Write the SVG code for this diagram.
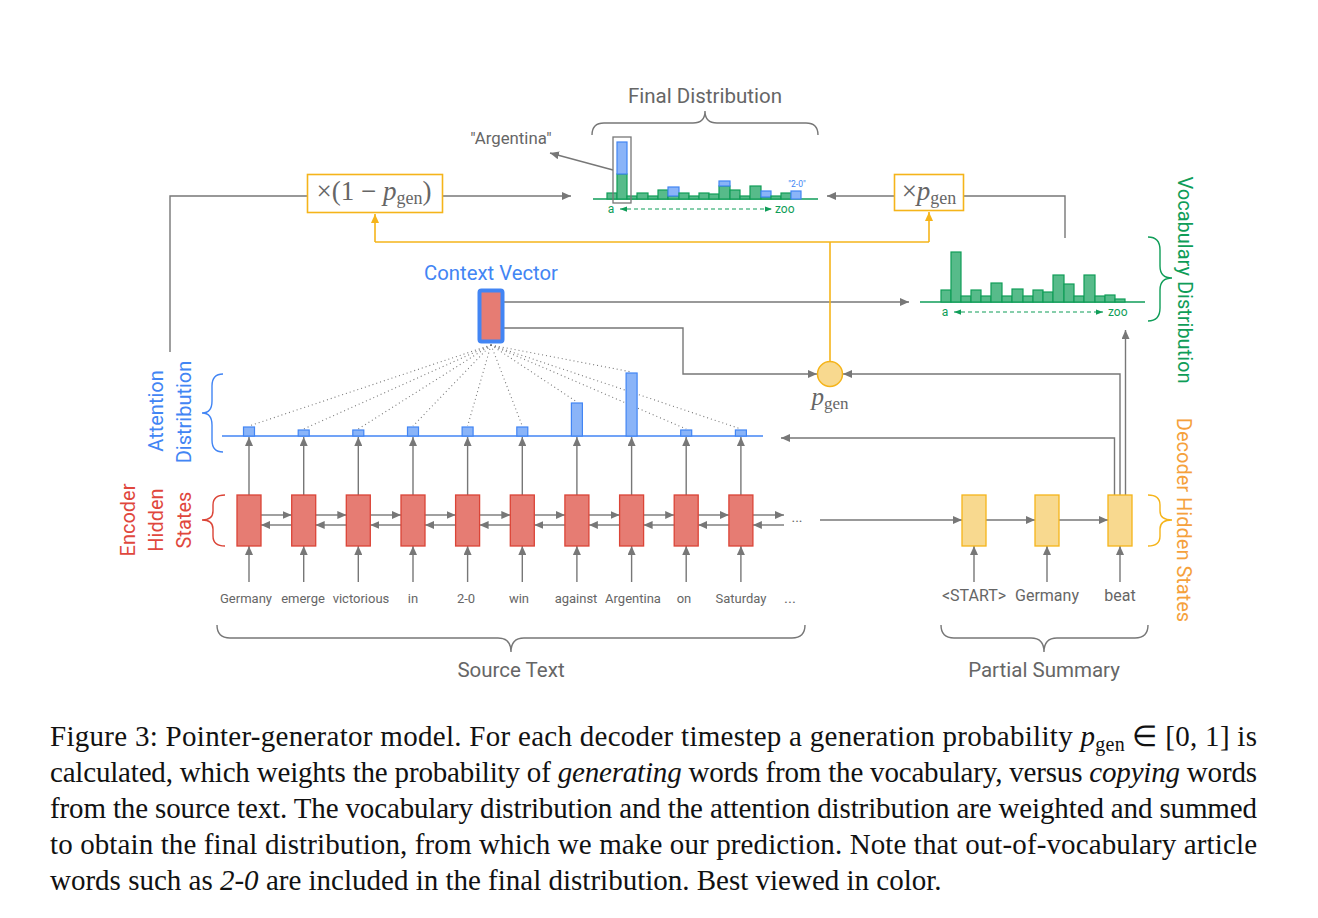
<svg xmlns="http://www.w3.org/2000/svg" width="1318" height="918" viewBox="0 0 1318 918">
<defs>
<marker id="ag" viewBox="0 0 9 8" refX="9" refY="4" markerWidth="9" markerHeight="8" markerUnits="userSpaceOnUse" orient="auto"><path d="M0,0 L9,4 L0,8 z" fill="#777"/></marker>
<marker id="ay" viewBox="0 0 9 8" refX="9" refY="4" markerWidth="9" markerHeight="8" markerUnits="userSpaceOnUse" orient="auto"><path d="M0,0 L9,4 L0,8 z" fill="#f5b41a"/></marker>
<marker id="agr" viewBox="0 0 8 6" refX="8" refY="3" markerWidth="7" markerHeight="6" markerUnits="userSpaceOnUse" orient="auto-start-reverse"><path d="M0,0 L8,3 L0,6 z" fill="#0f9d58"/></marker>
<style>
.ln{fill:none;stroke:#777;stroke-width:1.4}
.ar{fill:none;stroke:#777;stroke-width:1.4;marker-end:url(#ag)}
.yl{fill:none;stroke:#f5b41a;stroke-width:1.6}
.ya{fill:none;stroke:#f5b41a;stroke-width:1.6;marker-end:url(#ay)}
.dot{fill:none;stroke:#777;stroke-width:1.1;stroke-dasharray:1 3}
.enc{fill:#e67c73;stroke:#db4437;stroke-width:1.3}
.dec{fill:#f8d98f;stroke:#f5b41a;stroke-width:1.3}
.att{fill:#8ab4f8;stroke:#4285f4;stroke-width:1.2}
.gb{fill:#57bb8a;stroke:#0f9d58;stroke-width:1.2}
.bb{fill:#8ab4f8;stroke:#4285f4;stroke-width:1.2}
.w{font-family:Roboto,'Liberation Sans',sans-serif;font-size:13px;fill:#666;text-anchor:middle}
.wd{font-family:Roboto,'Liberation Sans',sans-serif;font-size:16px;fill:#666;text-anchor:middle}
.lab{font-family:Roboto,'Liberation Sans',sans-serif;font-size:20.5px;fill:#666;text-anchor:middle}
.rot{font-family:Roboto,'Liberation Sans',sans-serif;font-size:20px;text-anchor:middle}
.math{font-family:'Liberation Serif',serif;fill:#666;text-anchor:middle}
.cap{font-family:'Liberation Serif','Times New Roman',serif;font-size:29px;fill:#111}
.sm{font-family:Roboto,'Liberation Sans',sans-serif;font-size:12px;fill:#0f9d58}
.brace{fill:none;stroke-width:1.4}
</style>
</defs>

<g id="connectors">
  <path class="ar" d="M261,515 H291.7"/><path class="ar" d="M291.7,525 H261"/>
  <path class="ar" d="M315.7,515 H346.3"/><path class="ar" d="M346.3,525 H315.7"/>
  <path class="ar" d="M370.3,515 H401"/><path class="ar" d="M401,525 H370.3"/>
  <path class="ar" d="M425,515 H455.6"/><path class="ar" d="M455.6,525 H425"/>
  <path class="ar" d="M479.6,515 H510.3"/><path class="ar" d="M510.3,525 H479.6"/>
  <path class="ar" d="M534.3,515 H564.9"/><path class="ar" d="M564.9,525 H534.3"/>
  <path class="ar" d="M588.9,515 H619.6"/><path class="ar" d="M619.6,525 H588.9"/>
  <path class="ar" d="M643.6,515 H674.2"/><path class="ar" d="M674.2,525 H643.6"/>
  <path class="ar" d="M698.2,515 H728.9"/><path class="ar" d="M728.9,525 H698.2"/>
  <path class="ar" d="M752.9,515 H784"/><path class="ar" d="M784,525 H752.9"/>
  <path class="ar" d="M249,582 V546"/><path class="ar" d="M303.7,582 V546"/><path class="ar" d="M358.3,582 V546"/>
  <path class="ar" d="M413,582 V546"/><path class="ar" d="M467.6,582 V546"/><path class="ar" d="M522.3,582 V546"/>
  <path class="ar" d="M576.9,582 V546"/><path class="ar" d="M631.6,582 V546"/><path class="ar" d="M686.2,582 V546"/>
  <path class="ar" d="M740.9,582 V546"/>
  <path class="ar" d="M249,495 V437"/><path class="ar" d="M303.7,495 V437"/><path class="ar" d="M358.3,495 V437"/>
  <path class="ar" d="M413,495 V437"/><path class="ar" d="M467.6,495 V437"/><path class="ar" d="M522.3,495 V437"/>
  <path class="ar" d="M576.9,495 V437"/><path class="ar" d="M631.6,495 V437"/><path class="ar" d="M686.2,495 V437"/>
  <path class="ar" d="M740.9,495 V437"/>
  <path class="dot" d="M491,345 L249,426"/><path class="dot" d="M491,345 L303.7,429"/><path class="dot" d="M491,345 L358.3,429"/>
  <path class="dot" d="M491,345 L413,426"/><path class="dot" d="M491,345 L467.6,426"/><path class="dot" d="M491,345 L522.3,426"/>
  <path class="dot" d="M491,345 L576.9,402"/><path class="dot" d="M491,345 L631.6,372"/><path class="dot" d="M491,345 L686.2,429"/>
  <path class="dot" d="M491,345 L740.9,429"/>
  <path class="ar" d="M820,520 H962"/>
  <path class="ar" d="M986,520 H1035"/>
  <path class="ar" d="M1059,520 H1108"/>
  <path class="ar" d="M974,582 V546"/><path class="ar" d="M1047,582 V546"/><path class="ar" d="M1120,582 V546"/>
  <path class="ar" d="M1114.5,495 V438 H781"/>
  <path class="ar" d="M1120,495 V374 H843"/>
  <path class="ar" d="M1125.5,495 V330"/>
  <path class="ar" d="M504,302 H909"/>
  <path class="ar" d="M504,328 H683 V374 H817"/>
  <path class="ln" d="M170,352 V196 H307"/>
  <path class="ar" d="M443,196 H571"/>
  <path class="ar" d="M894,196 H827"/>
  <path class="ln" d="M964,196 H1065 V238"/>
  <path class="ar" d="M613,170 L550,153"/>
  <path class="yl" d="M830,361.5 V242"/>
  <path class="yl" d="M375,242 H929"/>
  <path class="ya" d="M375,242 V214"/>
  <path class="ya" d="M929,242 V212"/>
</g>

<g id="encoder">
  <rect class="enc" x="237" y="495" width="24" height="51"/>
  <rect class="enc" x="291.7" y="495" width="24" height="51"/>
  <rect class="enc" x="346.3" y="495" width="24" height="51"/>
  <rect class="enc" x="401" y="495" width="24" height="51"/>
  <rect class="enc" x="455.6" y="495" width="24" height="51"/>
  <rect class="enc" x="510.3" y="495" width="24" height="51"/>
  <rect class="enc" x="564.9" y="495" width="24" height="51"/>
  <rect class="enc" x="619.6" y="495" width="24" height="51"/>
  <rect class="enc" x="674.2" y="495" width="24" height="51"/>
  <rect class="enc" x="728.9" y="495" width="24" height="51"/>
  <text x="797" y="522" font-family="Roboto,'Liberation Sans',sans-serif" font-size="14" fill="#666" text-anchor="middle">...</text>
</g>

<g id="source-words">
  <text class="w" x="246" y="603">Germany</text>
  <text class="w" x="303" y="603">emerge</text>
  <text class="w" x="361" y="603">victorious</text>
  <text class="w" x="413" y="603">in</text>
  <text class="w" x="466" y="603">2-0</text>
  <text class="w" x="519" y="603">win</text>
  <text class="w" x="576" y="603">against</text>
  <text class="w" x="633" y="603">Argentina</text>
  <text class="w" x="684" y="603">on</text>
  <text class="w" x="741" y="603">Saturday</text>
  <text x="790" y="603" font-family="Roboto,'Liberation Sans',sans-serif" font-size="15" fill="#666" text-anchor="middle">...</text>
</g>

<g id="attention">
  <line x1="222" y1="436" x2="763" y2="436" stroke="#4285f4" stroke-width="1.5"/>
  <rect class="att" x="243.5" y="427" width="11" height="9"/>
  <rect class="att" x="298.2" y="430" width="11" height="6"/>
  <rect class="att" x="352.8" y="430" width="11" height="6"/>
  <rect class="att" x="407.5" y="427" width="11" height="9"/>
  <rect class="att" x="462.1" y="427" width="11" height="9"/>
  <rect class="att" x="516.8" y="427" width="11" height="9"/>
  <rect class="att" x="571.4" y="403" width="11" height="33"/>
  <rect class="att" x="626.1" y="373" width="11" height="63"/>
  <rect class="att" x="680.7" y="430" width="11" height="6"/>
  <rect class="att" x="735.4" y="430" width="11" height="6"/>
</g>

<g id="context-vector">
  <rect x="479.5" y="290.5" width="23" height="51" rx="2" fill="#e67c73" stroke="#4285f4" stroke-width="4"/>
  <text x="491" y="280" font-family="Roboto,'Liberation Sans',sans-serif" font-size="20.3" fill="#4285f4" text-anchor="middle">Context Vector</text>
</g>

<g id="pgen">
  <circle cx="830" cy="374" r="12.5" fill="#f8d98f" stroke="#f5b41a" stroke-width="1.5"/>
  <text class="math" x="830" y="405" font-size="25"><tspan font-style="italic">p</tspan><tspan font-size="17" dy="4">gen</tspan></text>
</g>

<g id="one-minus-pgen">
  <rect x="307.5" y="174.5" width="135" height="38" fill="#fff" stroke="#f5b41a" stroke-width="1.6"/>
  <text class="math" x="374" y="200" font-size="27">×(1 − <tspan font-style="italic">p</tspan><tspan font-size="18" dy="4">gen</tspan><tspan dy="-4">)</tspan></text>
</g>

<g id="times-pgen">
  <rect x="894.5" y="174.5" width="69" height="36" fill="#fff" stroke="#f5b41a" stroke-width="1.6"/>
  <text class="math" x="929" y="200" font-size="27">×<tspan font-style="italic">p</tspan><tspan font-size="18" dy="4">gen</tspan></text>
</g>

<g id="final-distribution">
  <line x1="593" y1="199" x2="818" y2="199" stroke="#0f9d58" stroke-width="1.5"/>
  <rect class="gb" x="607" y="193" width="10" height="6"/>
  <rect class="gb" x="617" y="174" width="10" height="25"/>
  <rect class="bb" x="617" y="142" width="10" height="32"/>
  <rect class="gb" x="627" y="196" width="10" height="3"/>
  <rect class="gb" x="637" y="193" width="11" height="6"/>
  <rect class="gb" x="648" y="196" width="10" height="3"/>
  <rect class="gb" x="658" y="190" width="10" height="9"/>
  <rect class="gb" x="668" y="196" width="11" height="3"/>
  <rect class="bb" x="668" y="187" width="11" height="9"/>
  <rect class="gb" x="679" y="193" width="10" height="6"/>
  <rect class="gb" x="689" y="196" width="10" height="3"/>
  <rect class="gb" x="699" y="193" width="10" height="6"/>
  <rect class="gb" x="709" y="194" width="10" height="5"/>
  <rect class="gb" x="719" y="186" width="11" height="13"/>
  <rect class="bb" x="719" y="181" width="11" height="5"/>
  <rect class="gb" x="730" y="190" width="10" height="9"/>
  <rect class="gb" x="740" y="196" width="10" height="3"/>
  <rect class="gb" x="750" y="186" width="11" height="13"/>
  <rect class="gb" x="761" y="197" width="10" height="2"/>
  <rect class="bb" x="761" y="191" width="10" height="6"/>
  <rect class="gb" x="771" y="196" width="10" height="3"/>
  <rect class="gb" x="781" y="193" width="10" height="6"/>
  <rect class="bb" x="791" y="191" width="10" height="8"/>
  <rect x="613" y="137" width="18" height="66" fill="none" stroke="#777" stroke-width="1.3"/>
  <text x="797" y="187" font-family="Roboto,'Liberation Sans',sans-serif" font-size="8.5" fill="#4285f4" text-anchor="middle">"2-0"</text>
  <text class="sm" x="611" y="213" text-anchor="middle">a</text>
  <line x1="620" y1="209" x2="772" y2="209" stroke="#0f9d58" stroke-width="1.2" stroke-dasharray="4 3" marker-start="url(#agr)" marker-end="url(#agr)"/>
  <text class="sm" x="775" y="213">zoo</text>
  <text x="511" y="144" font-family="Roboto,'Liberation Sans',sans-serif" font-size="16.8" fill="#666" text-anchor="middle">"Argentina"</text>
  <path class="brace" stroke="#777" d="M592,135 Q592,123 604,123 L693,123 Q705,123 705,111 Q705,123 717,123 L806,123 Q818,123 818,135"/>
  <text class="lab" x="705" y="103">Final Distribution</text>
</g>

<g id="vocab-distribution">
  <line x1="920" y1="302" x2="1145" y2="302" stroke="#0f9d58" stroke-width="1.5"/>
  <rect class="gb" x="941" y="290" width="10" height="12"/>
  <rect class="gb" x="951" y="252" width="10" height="50"/>
  <rect class="gb" x="961" y="296" width="10" height="6"/>
  <rect class="gb" x="971" y="290" width="10" height="12"/>
  <rect class="gb" x="981" y="296" width="10" height="6"/>
  <rect class="gb" x="991" y="283" width="11" height="19"/>
  <rect class="gb" x="1002" y="296" width="10" height="6"/>
  <rect class="gb" x="1012" y="289" width="11" height="13"/>
  <rect class="gb" x="1023" y="296" width="10" height="6"/>
  <rect class="gb" x="1033" y="290" width="10" height="12"/>
  <rect class="gb" x="1043" y="292" width="10" height="10"/>
  <rect class="gb" x="1053" y="275" width="11" height="27"/>
  <rect class="gb" x="1064" y="284" width="10" height="18"/>
  <rect class="gb" x="1074" y="296" width="10" height="6"/>
  <rect class="gb" x="1084" y="275" width="11" height="27"/>
  <rect class="gb" x="1095" y="296" width="10" height="6"/>
  <rect class="gb" x="1105" y="295" width="10" height="7"/>
  <rect class="gb" x="1115" y="299" width="10" height="3"/>
  <text class="sm" x="945" y="316" text-anchor="middle">a</text>
  <line x1="954" y1="312" x2="1103" y2="312" stroke="#0f9d58" stroke-width="1.2" stroke-dasharray="4 3" marker-start="url(#agr)" marker-end="url(#agr)"/>
  <text class="sm" x="1108" y="316">zoo</text>
</g>

<g id="decoder">
  <rect class="dec" x="962" y="495" width="24" height="51"/>
  <rect class="dec" x="1035" y="495" width="24" height="51"/>
  <rect class="dec" x="1108" y="495" width="24" height="51"/>
  <text class="wd" x="974" y="601">&lt;START&gt;</text>
  <text class="wd" x="1047" y="601">Germany</text>
  <text class="wd" x="1120" y="601">beat</text>
</g>

<g id="labels">
  <path class="brace" stroke="#4285f4" d="M223,374 Q212,374 212,386 L212,401 Q212,413 202,413 Q212,413 212,425 L212,440 Q212,452 223,452"/>
  <text class="rot" fill="#4285f4" transform="translate(163,411) rotate(-90)">Attention</text>
  <text class="rot" fill="#4285f4" transform="translate(191,412) rotate(-90)">Distribution</text>
  <path class="brace" stroke="#db4437" d="M225,495 Q213,495 213,505 L213,511 Q213,520 202,520 Q213,520 213,529 L213,536 Q213,546 225,546"/>
  <text class="rot" fill="#e0473d" transform="translate(135,520) rotate(-90)">Encoder</text>
  <text class="rot" fill="#e0473d" transform="translate(163,520) rotate(-90)">Hidden</text>
  <text class="rot" fill="#e0473d" transform="translate(191,520) rotate(-90)">States</text>
  <path class="brace" stroke="#0f9d58" d="M1148,237 Q1160,237 1160,250 L1160,266 Q1160,278 1172,278 Q1160,278 1160,290 L1160,308 Q1160,321 1148,321"/>
  <text class="rot" fill="#0f9d58" transform="translate(1178,280) rotate(90)">Vocabulary Distribution</text>
  <path class="brace" stroke="#f5b41a" d="M1148,495 Q1160,495 1160,505 L1160,511 Q1160,520 1172,520 Q1160,520 1160,529 L1160,536 Q1160,546 1148,546"/>
  <text class="rot" fill="#f5a13c" transform="translate(1177,520) rotate(90)">Decoder Hidden States</text>
  <path class="brace" stroke="#777" d="M217,625 Q217,638 230,638 L498,638 Q511,638 511,652 Q511,638 524,638 L792,638 Q805,638 805,625"/>
  <text class="lab" x="511" y="677">Source Text</text>
  <path class="brace" stroke="#777" d="M941,625 Q941,638 954,638 L1031,638 Q1044,638 1044,652 Q1044,638 1057,638 L1135,638 Q1148,638 1148,625"/>
  <text class="lab" x="1044" y="677">Partial Summary</text>
</g>

<g id="caption">
  <text class="cap" x="50" y="746" textLength="1207" lengthAdjust="spacing">Figure 3: Pointer-generator model. For each decoder timestep a generation probability <tspan font-style="italic">p</tspan><tspan font-size="20" dy="5">gen</tspan><tspan dy="-5"> ∈ [0, 1] is</tspan></text>
  <text class="cap" x="50" y="782" textLength="1207" lengthAdjust="spacing">calculated, which weights the probability of <tspan font-style="italic">generating</tspan> words from the vocabulary, versus <tspan font-style="italic">copying</tspan> words</text>
  <text class="cap" x="50" y="818" textLength="1207" lengthAdjust="spacing">from the source text. The vocabulary distribution and the attention distribution are weighted and summed</text>
  <text class="cap" x="50" y="854" textLength="1207" lengthAdjust="spacing">to obtain the final distribution, from which we make our prediction. Note that out-of-vocabulary article</text>
  <text class="cap" x="50" y="890">words such as <tspan font-style="italic">2-0</tspan> are included in the final distribution. Best viewed in color.</text>
</g>
</svg>
